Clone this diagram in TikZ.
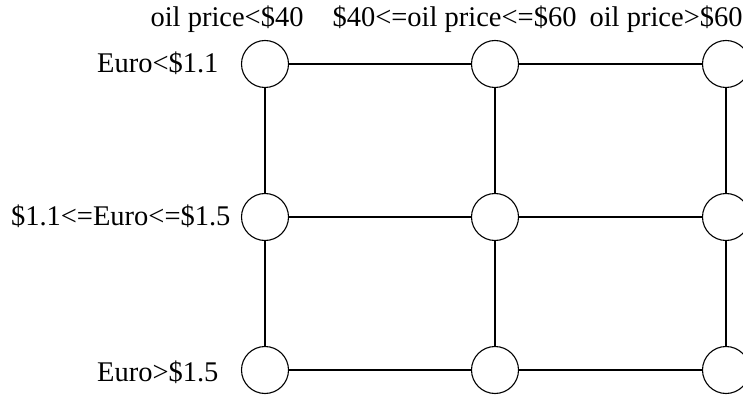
\documentclass[tikz,border=0pt]{standalone}
\usepackage{fontspec}
\setmainfont{Liberation Serif}
\usepackage{tikz}

\begin{document}
\begin{tikzpicture}[x=1pt,y=-1pt, line width=1.1pt, inner sep=0pt,
  state/.style={circle,draw=black,minimum size=47pt},
  lbl/.style={font=\fontsize{28.5}{34}\selectfont}]
\useasboundingbox (0,0) rectangle (743,395);
% states: rows are euro ranges, columns oil price ranges
\node (a1) at (265,64) [state] {};
\node (a2) at (495,64) [state] {};
\node (a3) at (726,64) [state] {};
\node (b1) at (265,217) [state] {};
\node (b2) at (495,217) [state] {};
\node (b3) at (726,217) [state] {};
\node (c1) at (265,370) [state] {};
\node (c2) at (495,370) [state] {};
\node (c3) at (726,370) [state] {};
% column headings
\node (oil1) at (150,27) [lbl,anchor=base west] {oil price<\$40};
\node (oil2) at (332,27) [lbl,anchor=base west] {\$40<=oil price<=\$60};
\node (oil3) at (589,27) [lbl,anchor=base west] {oil price>\$60};
% row headings
\node (eur1) at (219,72.5) [lbl,anchor=base east] {Euro<\$1.1};
\node (eur2) at (231,225.5) [lbl,anchor=base east] {\$1.1<=Euro<=\$1.5};
\node (eur3) at (219,381) [lbl,anchor=base east] {Euro>\$1.5};
% grid edges
\draw (a1) -- (a2); \draw (a2) -- (a3);
\draw (b1) -- (b2); \draw (b2) -- (b3);
\draw (c1) -- (c2); \draw (c2) -- (c3);
\draw (a1) -- (b1); \draw (b1) -- (c1);
\draw (a2) -- (b2); \draw (b2) -- (c2);
\draw (a3) -- (b3); \draw (b3) -- (c3);
\end{tikzpicture}
\end{document}
